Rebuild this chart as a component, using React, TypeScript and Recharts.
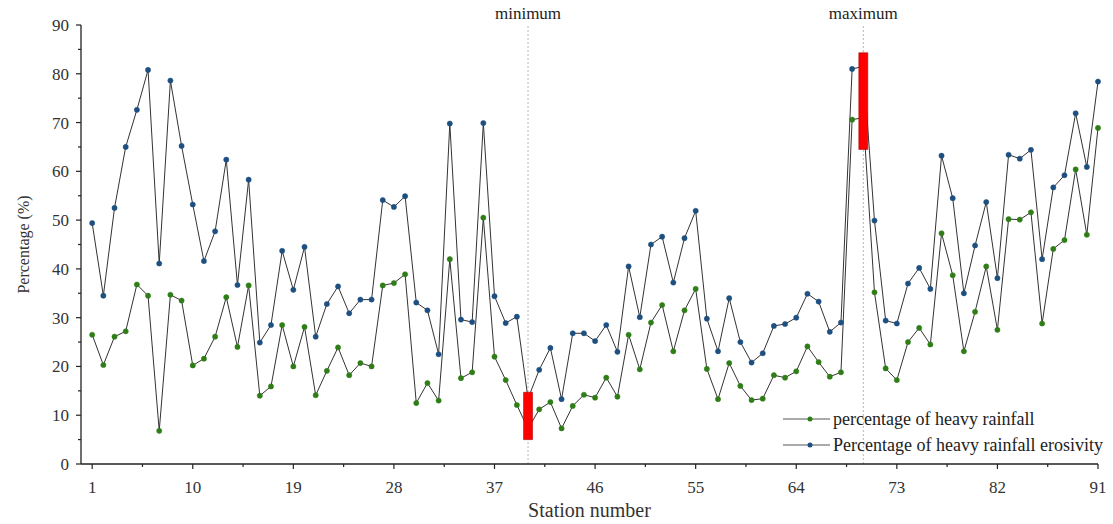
import React from 'react';
import { ComposedChart, Line, XAxis, YAxis, ReferenceLine, ReferenceArea } from 'recharts';

const stations = [
  1, 2, 3, 4, 5, 6, 7, 8, 9, 10, 11, 12, 13, 14, 15, 16, 17, 18, 19, 20,
  21, 22, 23, 24, 25, 26, 27, 28, 29, 30, 31, 32, 33, 34, 35, 36, 37, 38, 39, 40,
  41, 42, 43, 44, 45, 46, 47, 48, 49, 50, 51, 52, 53, 54, 55, 56, 57, 58, 59, 60,
  61, 62, 63, 64, 65, 66, 67, 68, 69, 70, 71, 72, 73, 74, 75, 76, 77, 78, 79, 80,
  81, 82, 83, 84, 85, 86, 87, 88, 89, 90, 91,
];

const heavyRainfall = [
  26.5, 20.3, 26.1, 27.2, 36.8, 34.5, 6.8, 34.7, 33.5, 20.2,
  21.6, 26.1, 34.2, 24.0, 36.6, 14.0, 15.9, 28.5, 20.0, 28.1,
  14.1, 19.1, 23.9, 18.2, 20.7, 20.0, 36.6, 37.1, 38.9, 12.5,
  16.6, 13.0, 42.0, 17.6, 18.8, 50.5, 22.0, 17.2, 12.1, 7.2,
  11.2, 12.7, 7.3, 11.9, 14.2, 13.6, 17.7, 13.8, 26.5, 19.4,
  29.0, 32.6, 23.1, 31.5, 35.9, 19.5, 13.3, 20.7, 16.0, 13.1,
  13.4, 18.2, 17.7, 19.0, 24.1, 20.9, 17.9, 18.8, 70.6, 71.0,
  35.2, 19.6, 17.2, 25.0, 27.9, 24.5, 47.3, 38.7, 23.1, 31.2,
  40.5, 27.5, 50.2, 50.1, 51.6, 28.8, 44.1, 45.9, 60.4, 47.0,
  68.9,
];

const erosivity = [
  49.4, 34.5, 52.5, 65.0, 72.6, 80.8, 41.1, 78.6, 65.2, 53.2,
  41.6, 47.7, 62.4, 36.7, 58.3, 24.9, 28.5, 43.7, 35.7, 44.5,
  26.1, 32.8, 36.4, 30.9, 33.7, 33.7, 54.1, 52.7, 54.9, 33.1,
  31.5, 22.5, 69.8, 29.6, 29.1, 69.9, 34.4, 28.9, 30.2, 13.4,
  19.3, 23.8, 13.3, 26.8, 26.8, 25.2, 28.5, 23.0, 40.5, 30.1,
  45.0, 46.6, 37.2, 46.3, 51.9, 29.8, 23.1, 34.0, 25.0, 20.8,
  22.7, 28.3, 28.7, 30.0, 34.9, 33.3, 27.1, 29.0, 81.0, 81.5,
  49.9, 29.4, 28.8, 37.0, 40.2, 35.9, 63.2, 54.5, 35.0, 44.8,
  53.7, 38.1, 63.4, 62.6, 64.4, 42.0, 56.7, 59.2, 71.9, 60.9,
  78.4,
];

const xMajorTicks = [1, 10, 19, 28, 37, 46, 55, 64, 73, 82, 91];
const xMinorTicks = [5.5, 14.5, 23.5, 32.5, 41.5, 50.5, 59.5, 68.5, 77.5, 86.5];
const yMajorTicks = [0, 10, 20, 30, 40, 50, 60, 70, 80, 90];
const yMinorTicks = [5, 15, 25, 35, 45, 55, 65, 75, 85];

// marked extremes: station, label, bar bottom, bar top
const markers = [
  { station: 40, label: 'minimum', low: 5.0, high: 14.7 },
  { station: 70, label: 'maximum', low: 64.5, high: 84.3 },
];

const legendItems = [
  { name: 'percentage of heavy rainfall', color: '#2f7d16' },
  { name: 'Percentage of heavy rainfall erosivity', color: '#1d4f80' },
];

const data = stations.map((s, i) => ({
  station: s,
  heavy: heavyRainfall[i],
  erosivity: erosivity[i],
}));

const FONT = '"Liberation Serif", "Times New Roman", serif';
const AXIS = '#222';
const TEXT = '#333';

const XTick = (props: any) => {
  const { x, y, payload } = props;
  const major = xMajorTicks.includes(payload.value);
  return (
    <g>
      <line x1={x} x2={x} y1={y} y2={y + (major ? 5 : 3)} stroke={AXIS} strokeWidth={1.2} />
      {major && (
        <text x={x} y={y + 29} textAnchor="middle" fontSize={17} fill={TEXT} fontFamily={FONT}>
          {payload.value}
        </text>
      )}
    </g>
  );
};

const YTick = (props: any) => {
  const { x, y, payload } = props;
  const major = yMajorTicks.includes(payload.value);
  return (
    <g>
      <line x1={x - (major ? 5 : 3)} x2={x} y1={y} y2={y} stroke={AXIS} strokeWidth={1.2} />
      {major && (
        <text x={x - 12} y={y + 6} textAnchor="end" fontSize={17} fill={TEXT} fontFamily={FONT}>
          {payload.value}
        </text>
      )}
    </g>
  );
};

const LegendBox = () => (
  <div style={{ position: 'absolute', left: 783, top: 406, fontFamily: FONT, fontSize: 18, color: '#222', lineHeight: '26px' }}>
    {legendItems.map(item => (
      <div key={item.name} style={{ display: 'flex', alignItems: 'center', whiteSpace: 'nowrap' }}>
        <svg width={47} height={10} style={{ marginRight: 3 }}>
          <line x1={0} x2={47} y1={5} y2={5} stroke="#555" strokeWidth={1} />
          <circle cx={27} cy={5} r={2.5} fill={item.color} />
        </svg>
        <span>{item.name}</span>
      </div>
    ))}
  </div>
);

const App: React.FC = () => {
  return (
    <div style={{ position: 'absolute', left: 0, top: 0, width: 1113, height: 524, background: '#fff' }}>
      <ComposedChart width={1113} height={524} data={data} margin={{ top: 25, right: 15, left: 0, bottom: 0 }}>
        <XAxis
          dataKey="station"
          type="number"
          domain={[0, 91]}
          ticks={[...xMajorTicks, ...xMinorTicks]}
          interval={0}
          tick={<XTick />}
          tickLine={false}
          tickSize={0}
          tickMargin={0}
          height={60}
          axisLine={{ stroke: AXIS, strokeWidth: 1.3 }}
          label={{ value: 'Station number', position: 'insideBottom', offset: 7, style: { fontFamily: FONT, fontSize: 20, fill: TEXT } }}
        />
        <YAxis
          type="number"
          domain={[0, 90]}
          ticks={[...yMajorTicks, ...yMinorTicks]}
          interval={0}
          tick={<YTick />}
          tickLine={false}
          tickSize={0}
          tickMargin={0}
          width={81}
          axisLine={{ stroke: AXIS, strokeWidth: 1.3 }}
          label={{ value: 'Percentage (%)', angle: -90, position: 'center', dx: -17, style: { fontFamily: FONT, fontSize: 16, fill: TEXT, textAnchor: 'middle' } }}
        />
        {markers.map(m => (
          <ReferenceLine
            key={m.label}
            x={m.station}
            stroke="#b8b8b8"
            strokeDasharray="2 2"
            label={{ value: m.label, position: 'top', offset: 6, style: { fontFamily: FONT, fontSize: 17, fill: '#222' } }}
          />
        ))}
        <Line
          dataKey="erosivity"
          name="Percentage of heavy rainfall erosivity"
          stroke="#333"
          strokeWidth={1}
          dot={{ r: 2.6, fill: '#1d4f80', stroke: '#1d4f80', strokeWidth: 0.5 }}
          activeDot={false}
          isAnimationActive={false}
        />
        <Line
          dataKey="heavy"
          name="percentage of heavy rainfall"
          stroke="#333"
          strokeWidth={1}
          dot={{ r: 2.6, fill: '#2f7d16', stroke: '#2f7d16', strokeWidth: 0.5 }}
          activeDot={false}
          isAnimationActive={false}
        />
        {markers.map(m => (
          <ReferenceArea
            key={'bar' + m.label}
            x1={m.station - 0.4}
            x2={m.station + 0.4}
            y1={m.low}
            y2={m.high}
            fill="#ff0000"
            fillOpacity={1}
            stroke="#b00000"
            strokeWidth={0.6}
            zIndex={1000}
            ifOverflow="visible"
          />
        ))}
      </ComposedChart>
      <LegendBox />
    </div>
  );
};

export default App;
